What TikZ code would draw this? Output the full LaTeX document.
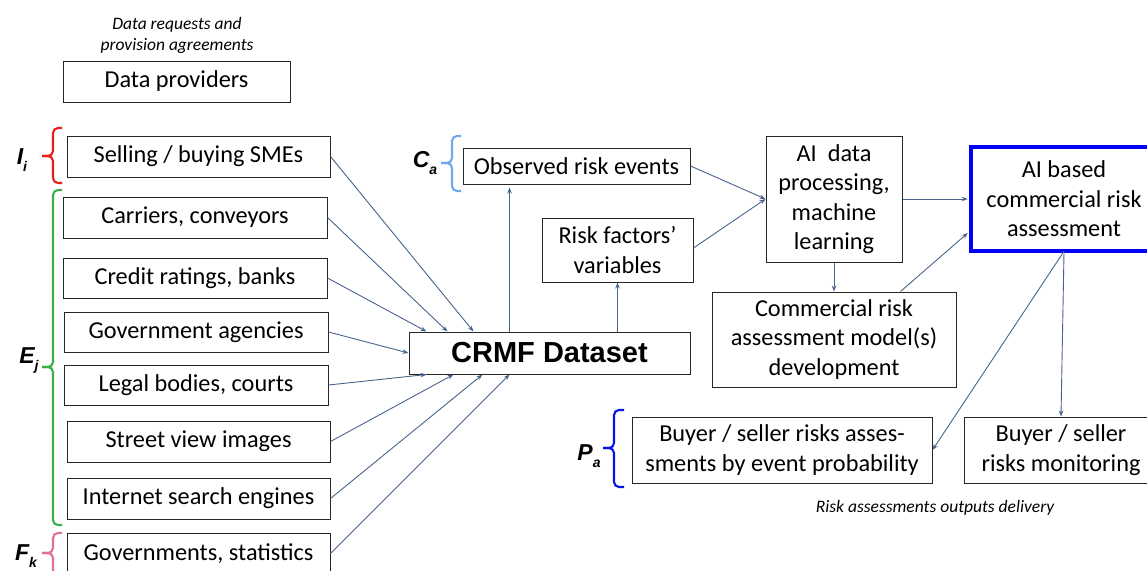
\documentclass[tikz,border=0pt]{standalone}
\usepackage{fontspec}
\setmainfont{Carlito}
\newfontfamily\labfont{Liberation Sans}
\usetikzlibrary{arrows.meta,calc}
\definecolor{arrcol}{RGB}{72,100,138}
\definecolor{bred}{RGB}{235,30,30}
\definecolor{bgreen}{RGB}{60,176,72}
\definecolor{bpink}{RGB}{222,112,160}
\definecolor{blight}{RGB}{110,170,235}
\definecolor{bblue}{RGB}{10,20,230}
\definecolor{aiblue}{RGB}{0,0,250}
\tikzset{
  box/.style={draw=black!85, line width=1pt, inner sep=2pt, align=center,
     font=\fontsize{24.3}{29.5}\selectfont},
  arr/.style={draw=arrcol, line width=0.9pt, -{Stealth[length=6pt,width=4.5pt]}},
  note/.style={font=\fontsize{17.5}{21}\selectfont\itshape, align=center},
  brlab/.style={font=\labfont\bfseries\itshape\fontsize{23}{23}\selectfont, inner sep=0pt},
  brace/.style={line width=2.1pt, rounded corners=5pt}
}
\newcommand{\sublab}[2]{#1\raisebox{-7pt}{\fontsize{14}{14}\selectfont #2}}
\begin{document}
\begin{tikzpicture}[x=1pt,y=-1pt]
\useasboundingbox (0,0) rectangle (1147,570);
% notes
\node[note] (n1) at (177,35) {Data requests and\\provision agreements};
\node[note] (n2) at (935,508) {Risk assessments outputs delivery};
% left boxes
\node[box, minimum width=227, minimum height=41] (dp) at (176.5,81.5) {Data providers};
\node[box, minimum width=263, minimum height=41] (sme) at (198.5,156.5) {Selling / buying SMEs};
\node[box, minimum width=264, minimum height=41] (car) at (195,217.5) {Carriers, conveyors};
\node[box, minimum width=264, minimum height=40] (cred) at (195,278) {Credit ratings, banks};
\node[box, minimum width=264, minimum height=40] (gov) at (196,332) {Government agencies};
\node[box, minimum width=264, minimum height=40] (legal) at (196,385) {Legal bodies, courts};
\node[box, minimum width=263, minimum height=41] (street) at (198.5,441.5) {Street view images};
\node[box, minimum width=263, minimum height=41] (inet) at (198.5,498.5) {Internet search engines};
\node[box, minimum width=263, minimum height=41] (govst) at (198.5,553.5) {Governments, statistics};
% center
\node[box, minimum width=281, minimum height=42, font=\labfont\bfseries\fontsize{29}{30}\selectfont] (crmf) at (549.5,353) {CRMF Dataset};
\node[box, minimum width=227, minimum height=36] (obs) at (576.5,166) {Observed risk events};
\node[box, minimum width=151, minimum height=64] (rf) at (617.5,250) {Risk factors’\\variables};
\node[box, minimum width=136, minimum height=126] (ai) at (834,199) {AI~ data\\processing,\\machine\\learning};
\node[box, minimum width=244, minimum height=95] (crm) at (834,339.5) {Commercial risk\\assessment model(s)\\development};
\node[box, draw=aiblue, line width=3.5pt, minimum width=186, minimum height=104] (aib) at (1064,199) {AI based\\commercial risk\\assessment};
\node[box, minimum width=300, minimum height=66] (bsa) at (782,450) {Buyer / seller risks asses-\\sments by event probability};
\node[box, minimum width=194, minimum height=66] (bsm) at (1061,450) {Buyer / seller\\risks monitoring};
% braces
\draw[brace, bred] (62,128) -- (53,128) -- (53,156) -- (42,156);
\draw[brace, bred] (62,183) -- (53,183) -- (53,156) -- (42,156);
\node[brlab] (li) at (22,160) {\sublab{I}{i}};
\draw[brace, bgreen] (62,190) -- (53,190) -- (53,367) -- (42,367);
\draw[brace, bgreen] (62,525) -- (53,525) -- (53,367) -- (42,367);
\node[brlab] (lj) at (29,361) {\sublab{E}{j}};
\draw[brace, bpink] (62,533) -- (53,533) -- (53,553) -- (42,553);
\draw[brace, bpink] (62,575) -- (53,575) -- (53,553) -- (42,553);
\node[brlab] (lk) at (26,556) {\sublab{F}{k}};
\draw[brace, blight] (461,136) -- (452,136) -- (452,163) -- (441,163);
\draw[brace, blight] (461,191) -- (452,191) -- (452,163) -- (441,163);
\node[brlab] (la) at (425,163) {\sublab{C}{a}};
\draw[brace, bblue] (624,410) -- (614,410) -- (614,448) -- (603,448);
\draw[brace, bblue] (624,487) -- (614,487) -- (614,448) -- (603,448);
\node[brlab] (lp) at (589,456) {\sublab{P}{a}};
% arrows into dataset
\draw[arr] (sme.east) -- ([xshift=65]crmf.north west);
\draw[arr] (car.east) -- ([xshift=39]crmf.north west);
\draw[arr] (cred.east) -- ([xshift=18]crmf.north west);
\draw[arr] (gov.east) -- (crmf.west);
\draw[arr] (legal.east) -- ([xshift=18]crmf.south west);
\draw[arr] (street.east) -- ([xshift=45]crmf.south west);
\draw[arr] (inet.east) -- ([xshift=74]crmf.south west);
\draw[arr] (govst.east) -- ([xshift=101]crmf.south west);
% dataset up
\draw[arr] ([xshift=101]crmf.north west) -- ([xshift=101,yshift=-3]crmf.north west |- obs.south);
\draw[arr] (rf.south |- crmf.north) -- (rf.south);
% to AI
\draw[arr] (obs.east) -- (ai.west);
\draw[arr] ([yshift=2]rf.east) -- (ai.west);
\draw[arr] (ai.east) -- ([xshift=-1.5]aib.west);
\draw[arr] (ai.south) -- (crm.north);
\draw[arr] ([xshift=-56]crm.north east) -- ([xshift=-1.5,yshift=-34]aib.west);
\draw[arr] ([yshift=1.5]aib.south) -- (bsa.east);
\draw[arr] ([yshift=1.5]aib.south) -- (bsm.north);
\end{tikzpicture}
\end{document}
